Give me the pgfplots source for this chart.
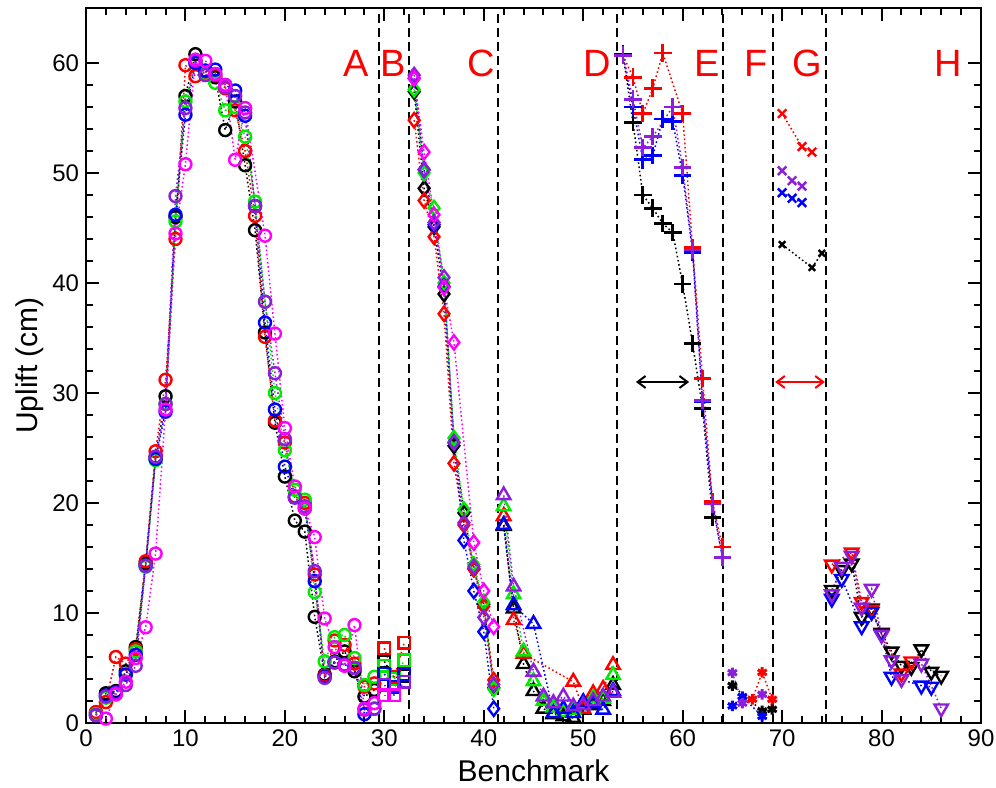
\documentclass[border=0pt]{standalone}
\usepackage{pgfplots}
\pgfplotsset{compat=1.18}
\usetikzlibrary{arrows.meta}
\usepackage{fontspec}
\setmainfont{Liberation Sans}
\definecolor{cR}{RGB}{255,0,0}
\definecolor{cG}{RGB}{0,235,0}
\definecolor{cB}{RGB}{0,0,255}
\definecolor{cP}{RGB}{140,30,220}
\definecolor{cM}{RGB}{255,0,255}
\definecolor{cK}{RGB}{0,0,0}
\pgfplotsset{
 S/.style={color=#1, dash pattern=on 0.8bp off 1.3bp, line width=0.75bp, mark options={solid, line width=1.2bp}},
 mA/.style={mark=o, mark size=3bp},
 mB/.style={mark=square, mark size=2.9bp},
 mC/.style={mark=diamond, mark size=3.6bp},
 mD/.style={mark=triangle, mark size=3.9bp},
 mE/.style={mark=+, mark size=4.4bp, every mark/.append style={line width=1.4bp}},
 mF/.style={mark=asterisk, mark size=2.6bp, every mark/.append style={line width=1.5bp}},
 mG/.style={mark=x, mark size=3bp, every mark/.append style={line width=1.2bp}},
 mH/.style={mark=triangle, mark size=3.9bp, every mark/.append style={rotate=180}},
}
\begin{document}
\begin{tikzpicture}
\begin{axis}[
 scale only axis, width=447.5bp, height=357.5bp,
 xmin=0, xmax=90, ymin=0, ymax=65,
 xtick={0,10,...,90}, ytick={0,10,...,60},
 minor x tick num=4, minor y tick num=4,
 tick align=inside,
 major tick length=6.5bp, minor tick length=3.5bp,
 every tick/.style={black, line width=1bp},
 axis line style={line width=1.2bp},
 ticklabel style={font=\fontsize{12bp}{14bp}\selectfont},
 /pgf/number format/assume math mode=true,
 clip=false,
 every axis x label/.style={at={(axis description cs:0.5,0)}, anchor=center, yshift=-24bp},
 every axis y label/.style={at={(axis description cs:0,0.5)}, anchor=center, xshift=-28bp, rotate=90},
 label style={font=\fontsize{15bp}{18bp}\selectfont},
 xlabel={Benchmark}, ylabel={Uplift (cm)},
]
% ---------- region boundaries ----------
\foreach \xx in {29.5,32.5,41.4,53.4,64.1,69.1,74.4}{
  \edef\tmp{\noexpand\draw[black, line width=1bp, dash pattern=on 4.5bp off 2.5bp] (axis cs:\xx,0) -- (axis cs:\xx,65);}\tmp
}
% ---------- A: circles ----------
\addplot[S=cK, mA] coordinates {(1,0.9)(2,2.7)(3,2.9)(4,4.7)(5,6.9)(6,14.5)(7,24.2)(8,29.7)(9,46.0)(10,57.0)(11,60.8)(12,59.3)(13,58.7)(14,53.9)(15,56.5)(16,50.7)(17,44.8)(18,35.5)(19,27.3)(20,22.4)(21,18.4)(22,17.4)(23,9.65)(24,4.4)(25,5.6)(26,6.5)(27,4.7)(28,2.4)(29,3.0)};
\addplot[S=cR, mA] coordinates {(1,1.0)(2,1.9)(3,6.0)(4,5.4)(5,6.7)(6,14.7)(7,24.7)(8,31.2)(9,44.0)(10,59.8)(11,58.8)(12,59.2)(13,58.9)(14,57.7)(15,55.7)(16,52.0)(17,46.1)(18,35.1)(19,27.5)(20,25.5)(21,20.6)(22,20.0)(23,13.5)(24,4.3)(25,7.5)(26,7.1)(27,5.4)(28,3.3)(29,3.6)};
\addplot[S=cG, mA] coordinates {(1,0.8)(2,2.3)(3,2.6)(4,4.4)(5,6.5)(6,14.2)(7,23.9)(8,29.0)(9,45.6)(10,56.5)(11,60.0)(12,59.0)(13,58.2)(14,55.7)(15,56.0)(16,53.3)(17,47.4)(18,38.3)(19,30.0)(20,24.8)(21,21.2)(22,20.3)(23,11.9)(24,5.6)(25,7.8)(26,8.0)(27,5.9)(28,3.45)(29,4.2)};
\addplot[S=cB, mA] coordinates {(1,0.7)(2,2.5)(3,2.8)(4,4.4)(5,6.2)(6,14.3)(7,24.0)(8,28.3)(9,46.2)(10,55.3)(11,60.0)(12,59.3)(13,59.4)(14,58.0)(15,57.5)(16,55.2)(17,47.0)(18,36.4)(19,28.5)(20,23.3)(21,20.5)(22,19.5)(23,12.9)(24,4.2)(25,5.5)(26,5.3)(27,5.0)(28,0.8)(29,1.3)};
\addplot[S=cP, mA] coordinates {(1,0.7)(2,2.4)(3,2.7)(4,3.45)(5,5.2)(6,14.3)(7,24.2)(8,29.0)(9,47.9)(10,55.9)(11,60.2)(12,58.9)(13,59.0)(14,57.8)(15,57.0)(16,55.5)(17,47.0)(18,38.3)(19,31.8)(20,25.8)(21,20.5)(22,19.7)(23,13.8)(24,4.1)(25,5.5)(26,5.3)(27,5.0)(28,1.2)(29,1.3)};
\addplot[S=cM, mA] coordinates {(2,0.4)(3,2.6)(4,3.75)(5,5.9)(6,8.7)(7,15.4)(8,28.5)(9,44.5)(10,50.8)(11,60.3)(12,60.2)(13,59.0)(14,58.0)(15,51.2)(16,55.9)(18,44.3)(19,35.4)(20,26.8)(21,21.5)(22,19.5)(23,16.9)(24,9.5)(25,6.9)(26,5.2)(27,8.9)(28,1.3)(29,1.8)};
% ---------- B: squares ----------
\addplot[S=cK, mB] coordinates {(30,5.6)(31,4.1)(32,4.3)};
\addplot[S=cR, mB] coordinates {(30,6.8)(31,4.2)(32,7.3)};
\addplot[S=cG, mB] coordinates {(30,5.2)(31,4.0)(32,5.7)};
\addplot[S=cB, mB] coordinates {(30,4.45)(31,3.3)(32,4.45)};
\addplot[S=cP, mB] coordinates {(30,3.45)(31,2.55)(32,3.75)};
\addplot[S=cM, mB] coordinates {(30,2.5)(31,2.5)};
% ---------- C: diamonds ----------
\addplot[S=cK, mC] coordinates {(33,57.4)(34,48.6)(35,45.1)(36,39.0)(37,25.2)(38,19.1)(39,14.0)(40,10.8)(41,3.2)};
\addplot[S=cR, mC] coordinates {(33,54.8)(34,47.5)(35,44.2)(36,37.2)(37,23.6)(38,18.0)(39,14.0)(40,10.6)(41,3.9)};
\addplot[S=cG, mC] coordinates {(33,57.6)(34,50.0)(35,46.8)(36,40.0)(37,25.9)(38,19.4)(39,14.4)(40,11.0)(41,3.1)};
\addplot[S=cB, mC] coordinates {(33,58.6)(34,50.3)(35,45.3)(36,39.7)(37,25.5)(38,16.6)(39,12.0)(40,8.3)(41,1.3)};
\addplot[S=cP, mC] coordinates {(33,58.9)(34,50.3)(35,45.5)(36,40.5)(37,25.5)(38,18.2)(39,14.2)(40,9.6)(41,3.5)};
\addplot[S=cM, mC] coordinates {(33,58.6)(34,51.9)(35,46.2)(36,39.6)(37,34.6)(39,16.4)(40,12.0)(41,8.75)};
% ---------- D: triangles ----------
\addplot[S=cK, mD] coordinates {(42,17.9)(43,10.4)(44,5.35)(45,2.9)(46,1.3)(47,0.8)(48,0.6)(49,0.45)(50,1.2)(51,1.6)(52,2.0)(53,3.45)};
\addplot[S=cR, mD] coordinates {(42,18.8)(43,9.35)(44,6.3)(49,3.75)(50,1.3)(51,2.7)(52,3.1)(53,5.27)};
\addplot[S=cG, mD] coordinates {(42,19.7)(43,11.7)(44,6.5)(45,3.8)(46,2.0)(47,1.4)(48,1.0)(49,1.2)(50,1.8)(51,2.25)(52,2.2)(53,4.36)};
\addplot[S=cB, mD] coordinates {(42,18.0)(43,10.7)(45,9.0)(47,0.9)(48,1.3)(49,0.9)(50,1.9)(51,1.8)(52,1.2)(53,2.9)};
\addplot[S=cP, mD] coordinates {(42,20.7)(43,12.4)(45,4.66)(46,2.4)(47,1.8)(48,2.4)(49,1.5)(50,1.6)(51,2.0)(52,2.4)(53,2.75)};
% ---------- E: plus ----------
\addplot[S=cK, mE] coordinates {(54,60.8)(55,54.6)(56,48.0)(57,46.8)(58,45.4)(59,44.6)(60,39.9)(61,34.5)(62,28.6)(63,18.7)};
\addplot[S=cR, mE] coordinates {(54,60.7)(55,58.7)(56,55.4)(57,57.7)(58,60.9)(60,55.4)(61,43.2)(62,31.3)(63,20.1)(64,16.0)};
\addplot[S=cB, mE] coordinates {(54,60.7)(55,56.0)(56,51.2)(57,51.6)(58,54.9)(59,54.7)(60,49.8)(61,42.8)(62,29.2)(63,19.9)(64,15.05)};
\addplot[S=cP, mE] coordinates {(54,60.7)(55,56.7)(56,52.3)(57,53.3)(59,56.0)(60,50.5)(61,43.0)(62,29.3)(63,19.9)(64,15.05)};
% ---------- F: asterisks ----------
\addplot[S=cK, mF] coordinates {(65,3.4)(68,1.1)(69,1.24)};
\addplot[S=cR, mF] coordinates {(67,2.15)(68,4.6)(69,2.15)};
\addplot[S=cB, mF] coordinates {(65,1.55)(66,2.4)(68,0.6)};
\addplot[S=cP, mF] coordinates {(65,4.57)(66,1.8)(68,2.6)};
% ---------- G: crosses ----------
\addplot[S=cR, mG] coordinates {(70,55.4)(72,52.4)(73,51.9)};
\addplot[S=cP, mG] coordinates {(70,50.2)(71,49.3)(72,48.8)};
\addplot[S=cB, mG] coordinates {(70,48.2)(71,47.7)(72,47.3)};
\addplot[S=cK, mG, mark size=2.3bp] coordinates {(70,43.5)(73,41.4)(74,42.7)};
% ---------- H: down triangles ----------
\addplot[S=cK, mH] coordinates {(75,12.1)(76,13.9)(77,14.5)(78,9.65)(79,10.4)(80,8.2)(81,6.5)(82,5.2)(83,5.1)(84,6.7)(85,4.66)(86,4.3)};
\addplot[S=cR, mH] coordinates {(75,14.4)(77,15.5)(78,11.0)(79,10.3)(80,8.1)(82,4.5)(83,5.6)};
\addplot[S=cB, mH] coordinates {(75,11.3)(76,13.1)(78,8.8)(79,10.1)(80,8.1)(81,4.2)(84,3.4)(85,3.3)};
\addplot[S=cP, mH] coordinates {(75,11.7)(76,14.2)(77,15.2)(78,10.5)(79,12.2)(80,8.0)(81,5.7)(82,4.0)(84,5.4)(86,1.33)};
% ---------- arrows ----------
\draw[black, line width=1bp, {Straight Barb[length=4bp,width=6bp]}-{Straight Barb[length=4bp,width=6bp]}] (axis cs:55.3,31.0) -- (axis cs:60.65,31.0);
\draw[cR, line width=1bp, {Straight Barb[length=4bp,width=6bp]}-{Straight Barb[length=4bp,width=6bp]}] (axis cs:69.3,31.0) -- (axis cs:74.3,31.0);
% ---------- letters ----------
\foreach \xx/\ll in {27.15/A,30.9/B,39.7/C,51.4/D,62.45/E,67.4/F,72.5/G,86.7/H}{
  \edef\tmp{\noexpand\node[text=cR, inner sep=0pt, font=\noexpand\fontsize{19bp}{22bp}\noexpand\selectfont] at (axis cs:\xx,60) {\ll};}\tmp
}
\end{axis}
\pgfresetboundingbox
\path[use as bounding box] (current axis.south west) ++(-43bp,-32.5bp) rectangle ([xshift=7.5bp,yshift=4bp]current axis.north east);
\end{tikzpicture}
\end{document}
